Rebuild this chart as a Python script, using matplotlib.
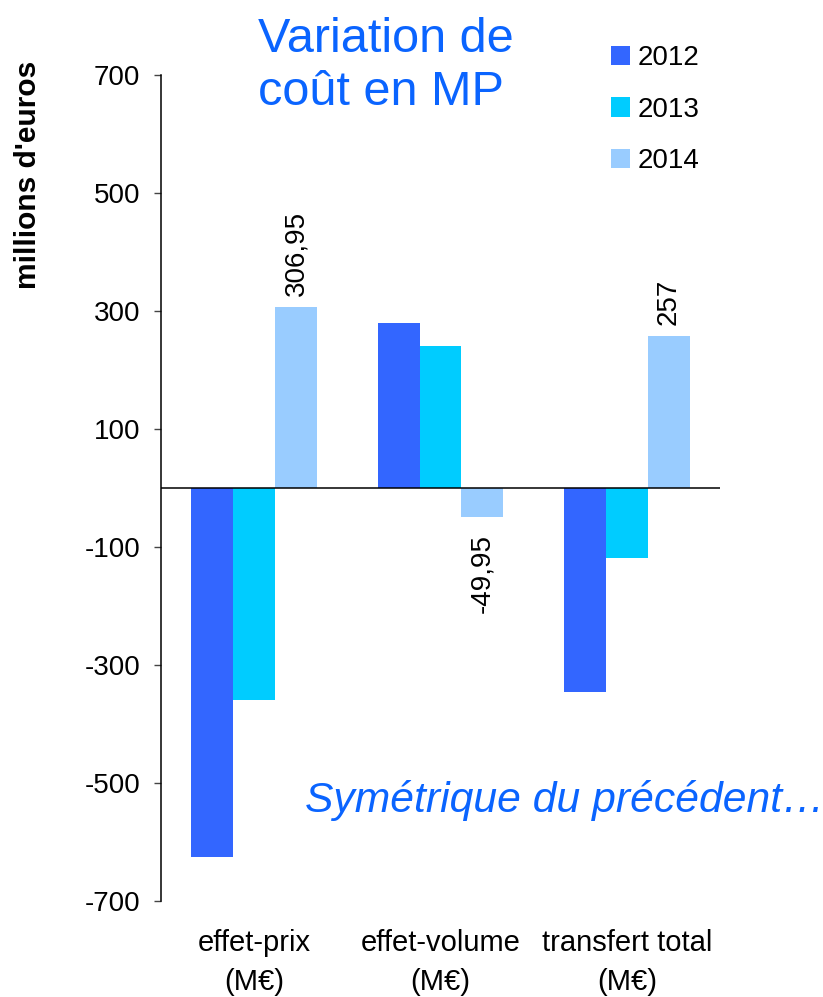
import numpy as np
import matplotlib
matplotlib.use("Agg")
import matplotlib.pyplot as plt
from matplotlib.patches import Patch

plt.rcParams['font.family'] = ['Liberation Sans', 'DejaVu Sans']

# Data
categories = ["effet-prix\n(M€)", "effet-volume\n(M€)", "transfert total\n(M€)"]
years = ["2012", "2013", "2014"]
v2012 = [-626, 280, -346]
v2013 = [-360, 241, -119]
v2014 = [306.95, -49.95, 257]
labels_2014 = ["306,95", "-49,95", "257"]
colors = ["#3366FF", "#00CCFF", "#99CCFF"]
yticks = [-700, -500, -300, -100, 100, 300, 500, 700]

W, H = 823, 997
fig = plt.figure(figsize=(W / 100, H / 100), dpi=100)
ax = fig.add_axes([161 / W, 1 - 901 / H, (720 - 161) / W, (901 - 75) / H])

x = np.arange(len(categories))
bw = 0.225
series = [v2012, v2013, v2014]
bars = []
for i, (vals, col) in enumerate(zip(series, colors)):
    b = ax.bar(x + (i - 1) * bw, vals, width=bw, color=col, linewidth=0)
    bars.append(b)

# rotated value labels on the 2014 bars
for rect, val, txt in zip(bars[2], v2014, labels_2014):
    cx = rect.get_x() + rect.get_width() / 2
    if val >= 0:
        ax.annotate(txt, (cx, val), xytext=(0, 8), textcoords="offset points",
                    rotation=90, ha="center", va="bottom", fontsize=20)
    else:
        ax.annotate(txt, (cx, val), xytext=(0, -12), textcoords="offset points",
                    rotation=90, ha="center", va="top", fontsize=20)

ax.axhline(0, color="black", linewidth=1.1)
ax.set_xlim(-0.5, 2.5)
ax.set_ylim(-700, 700)
ax.set_yticks(yticks)
ax.set_yticklabels([str(t) for t in yticks], fontsize=20)
ax.set_xticks(x)
ax.set_xticklabels(categories, fontsize=21, linespacing=1.5)
ax.tick_params(axis="x", length=0, pad=20)
ax.tick_params(axis="y", length=5, width=1, color="#444444", pad=10)
for s in ["top", "right", "bottom"]:
    ax.spines[s].set_visible(False)
ax.spines["left"].set_linewidth(1.1)

# legend
handles = [Patch(facecolor=c, edgecolor="none") for c in colors]
fig.legend(handles, years, loc="upper left", bbox_to_anchor=(611 / W, 1 - 45 / H),
           frameon=False, fontsize=20, handlelength=0.7, handleheight=0.7,
           handletextpad=0.25, labelspacing=0.92, borderpad=0, borderaxespad=0)

fig.text(28 / W, 1 - 175 / H, "millions d'euros", rotation=90, ha="center",
         va="center", fontsize=21.5, fontweight="bold")
fig.text(258 / W, 1 - 66 / H, "Variation de\ncoût en MP", ha="left", va="center",
         fontsize=35, color="#0A64FF", multialignment="left", linespacing=1.25)
fig.text(305 / W, 1 - 800 / H, "Symétrique du précédent…", ha="left", va="center",
         fontsize=30.7, color="#0A64FF", style="italic")

fig.savefig("out.png", dpi=100)
